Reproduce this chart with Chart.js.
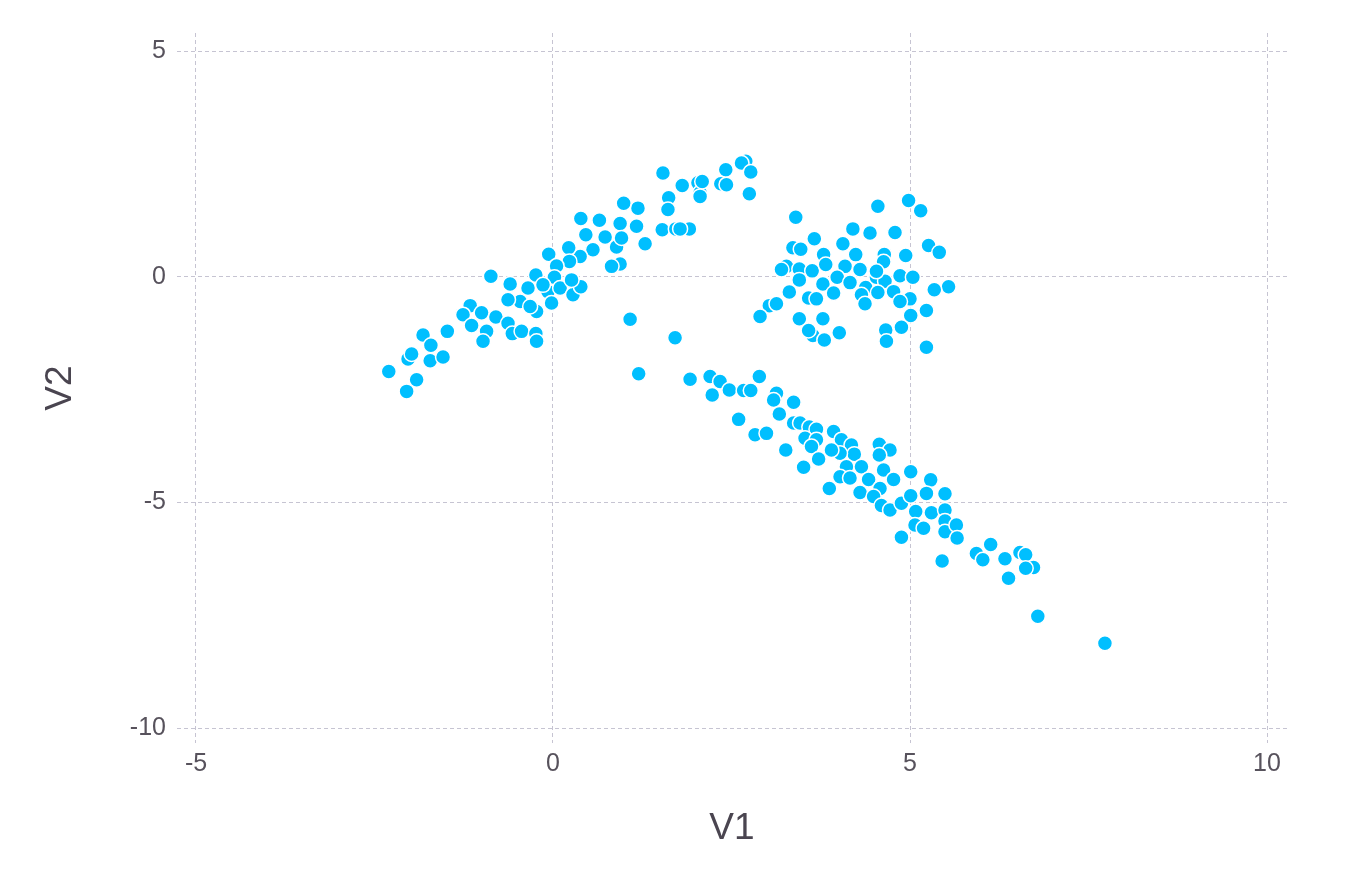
<!DOCTYPE html>
<html>
<head>
<meta charset="utf-8">
<title>V1 vs V2</title>
<script src="https://cdn.jsdelivr.net/npm/chart.js@4.4.1/dist/chart.umd.min.js"></script>
<style>
  body { margin: 0; background: #ffffff; }
  #wrap { width: 1352px; height: 872px; }
</style>
</head>
<body>
<div id="wrap"><canvas id="scatterChart" width="1352" height="872"></canvas></div>
<script>
// upper-left diagonal group
const grupoA_v1 = [1.54, 1.81, 2.03, 1.62, 1.61, 1.53, 1.72, 1.91, 2.06, 0.99, 1.19, 0.94, 1.17, 1.29, 0.39, 0.65, 0.46, 0.73, 0.89, 0.94,
  0.82, 0.56, 0.38, 0.22, 0.23, -0.06, 0.05, 0.02, -0.24, -0.35, -0.60, -0.87, -0.46, -0.63, -0.23, -0.32, -0.07, 0.10, -0.02, 0.28,
  0.39, -1.16, -1.26, -1.14, -1.00, -0.80, -0.93, -0.98, -0.63, -0.57, -0.44, -0.24, -0.23, -1.48, -1.82, -1.71, -1.72, -1.54, -2.03, -1.98,
  -2.30, -1.91, -2.05, 1.08, 1.71, 1.20, 2.70, 2.64, 2.77, 2.75, 2.42, 2.35, 2.43, 2.09, 2.06, 1.78, 0.96, 0.26, -0.14];
const grupoA_v2 = [2.30, 2.02, 2.08, 1.75, 1.49, 1.04, 1.06, 1.06, 1.86, 1.63, 1.52, 1.18, 1.12, 0.73, 1.29, 1.25, 0.93, 0.88, 0.66, 0.28,
  0.23, 0.60, 0.45, 0.64, 0.34, 0.50, 0.24, -0.01, 0.04, -0.25, -0.16, 0.01, -0.55, -0.51, -0.77, -0.66, -0.33, -0.25, -0.58, -0.40,
  -0.22, -0.64, -0.84, -1.08, -0.80, -0.89, -1.21, -1.43, -1.03, -1.26, -1.21, -1.26, -1.43, -1.21, -1.29, -1.52, -1.86, -1.78, -1.82, -1.71,
  -2.10, -2.28, -2.54, -0.94, -1.35, -2.15, 2.56, 2.52, 2.32, 1.84, 2.37, 2.06, 2.04, 2.11, 1.78, 1.06, 0.86, -0.07, -0.18];

// right cloud around (4, 0)
const grupoB_v1 = [3.40, 4.55, 4.98, 5.15, 4.20, 4.44, 4.79, 3.66, 3.36, 3.47, 4.06, 4.24, 3.79, 5.26, 5.41, 4.94, 4.64, 4.63, 3.27, 3.20,
  3.45, 3.63, 3.82, 4.09, 4.30, 3.98, 4.16, 3.45, 3.78, 4.38, 4.53, 4.65, 4.86, 5.04, 4.77, 4.55, 3.31, 3.58, 3.69, 3.93,
  4.32, 4.37, 5.00, 4.86, 5.54, 5.34, 3.03, 3.13, 2.90, 5.23, 5.01, 3.45, 3.78, 3.64, 3.58, 3.80, 4.01, 4.66, 4.67, 4.88,
  5.23, 4.53];
const grupoB_v2 = [1.32, 1.56, 1.69, 1.46, 1.06, 0.97, 0.98, 0.84, 0.64, 0.61, 0.73, 0.49, 0.49, 0.69, 0.54, 0.47, 0.49, 0.33, 0.23, 0.16,
  0.17, 0.13, 0.27, 0.23, 0.16, -0.01, -0.13, -0.07, -0.16, -0.24, -0.01, -0.10, 0.02, -0.01, -0.33, -0.35, -0.34, -0.47, -0.49, -0.36,
  -0.40, -0.60, -0.49, -0.55, -0.22, -0.29, -0.64, -0.60, -0.88, -0.75, -0.86, -0.93, -0.93, -1.30, -1.19, -1.40, -1.24, -1.18, -1.43, -1.12,
  -1.56, 0.12];

// lower diagonal group
const grupoC_v1 = [1.92, 2.20, 2.34, 2.23, 2.47, 2.67, 2.77, 2.89, 2.60, 2.83, 2.99, 3.13, 3.09, 3.37, 3.17, 3.37, 3.46, 3.59, 3.69, 3.53,
  3.69, 3.62, 3.93, 4.04, 4.18, 4.22, 4.02, 3.90, 3.26, 3.51, 3.72, 4.11, 4.32, 4.57, 4.72, 4.57, 4.63, 4.77, 4.02, 4.16,
  4.42, 4.58, 4.30, 4.49, 3.87, 4.60, 4.72, 4.88, 5.01, 5.29, 5.23, 5.49, 5.01, 5.08, 5.30, 5.49, 5.49, 5.07, 5.19, 5.49,
  5.65, 5.66, 4.88, 5.45, 5.93, 6.13, 6.02, 6.33, 6.38, 6.54, 6.62, 6.73, 6.62, 6.79, 7.73];
const grupoC_v2 = [-2.27, -2.21, -2.32, -2.62, -2.51, -2.52, -2.52, -2.21, -3.16, -3.50, -3.47, -2.58, -2.73, -2.78, -3.04, -3.24, -3.24, -3.33, -3.38, -3.58,
  -3.61, -3.76, -3.43, -3.61, -3.73, -3.93, -3.91, -3.84, -3.84, -4.22, -4.04, -4.21, -4.21, -3.71, -3.84, -3.95, -4.28, -4.49, -4.43, -4.46,
  -4.49, -4.69, -4.78, -4.87, -4.69, -5.07, -5.17, -5.02, -4.32, -4.50, -4.80, -4.81, -4.85, -5.20, -5.23, -5.17, -5.41, -5.50, -5.57, -5.65,
  -5.50, -5.79, -5.77, -6.30, -6.13, -5.93, -6.27, -6.25, -6.68, -6.11, -6.16, -6.44, -6.46, -7.52, -8.12];

const ticksV1 = [-5, 0, 5, 10];
const ticksV2 = [-10, -5, 0, 5];

function aPuntos(xs, ys) {
  return xs.map((x, i) => ({ x: x, y: ys[i] }));
}

document.addEventListener("DOMContentLoaded", () => {
  const puntos = [].concat(
    aPuntos(grupoA_v1, grupoA_v2),
    aPuntos(grupoB_v1, grupoB_v2),
    aPuntos(grupoC_v1, grupoC_v2)
  );

  const gridCfg = {
    color: '#c6c4d2',
    lineWidth: 1,
    drawTicks: false,
    dash: [4, 3]
  };
  const tickFont = { family: "'Liberation Sans', Arial, sans-serif", size: 25 };
  const titleFont = { family: "'Liberation Sans', Arial, sans-serif", size: 37 };

  new Chart(document.getElementById('scatterChart'), {
    type: 'scatter',
    data: {
      datasets: [{
        data: puntos,
        backgroundColor: '#00bfff',
        borderColor: '#ffffff',
        borderWidth: 1.5,
        pointRadius: 7.5,
        pointHoverRadius: 7.5
      }]
    },
    options: {
      responsive: false,
      animation: false,
      devicePixelRatio: 1,
      layout: { padding: { top: 33, right: 65, bottom: 0, left: 0 } },
      plugins: {
        legend: { display: false },
        tooltip: { enabled: false }
      },
      scales: {
        x: {
          type: 'linear',
          min: -5.266,
          max: 10.28,
          border: { display: false, dash: [4, 3] },
          grid: gridCfg,
          afterBuildTicks: s => { s.ticks = ticksV1.map(v => ({ value: v })); },
          afterFit: s => { s.height = 129; },
          ticks: { color: '#57525c', font: tickFont, padding: 6, maxRotation: 0 },
          title: { display: true, text: 'V1', color: '#4a4550', font: titleFont, padding: { top: 0, bottom: 21 } }
        },
        y: {
          type: 'linear',
          min: -10.33,
          max: 5.40,
          border: { display: false, dash: [4, 3] },
          grid: gridCfg,
          afterBuildTicks: s => { s.ticks = ticksV2.map(v => ({ value: v })); },
          afterFit: s => { s.width = 177; },
          ticks: { color: '#57525c', font: tickFont, padding: 11 },
          title: { display: true, text: 'V2', color: '#4a4550', font: titleFont, padding: { top: 39, bottom: 0 } }
        }
      }
    }
  });
});
</script>
</body>
</html>
